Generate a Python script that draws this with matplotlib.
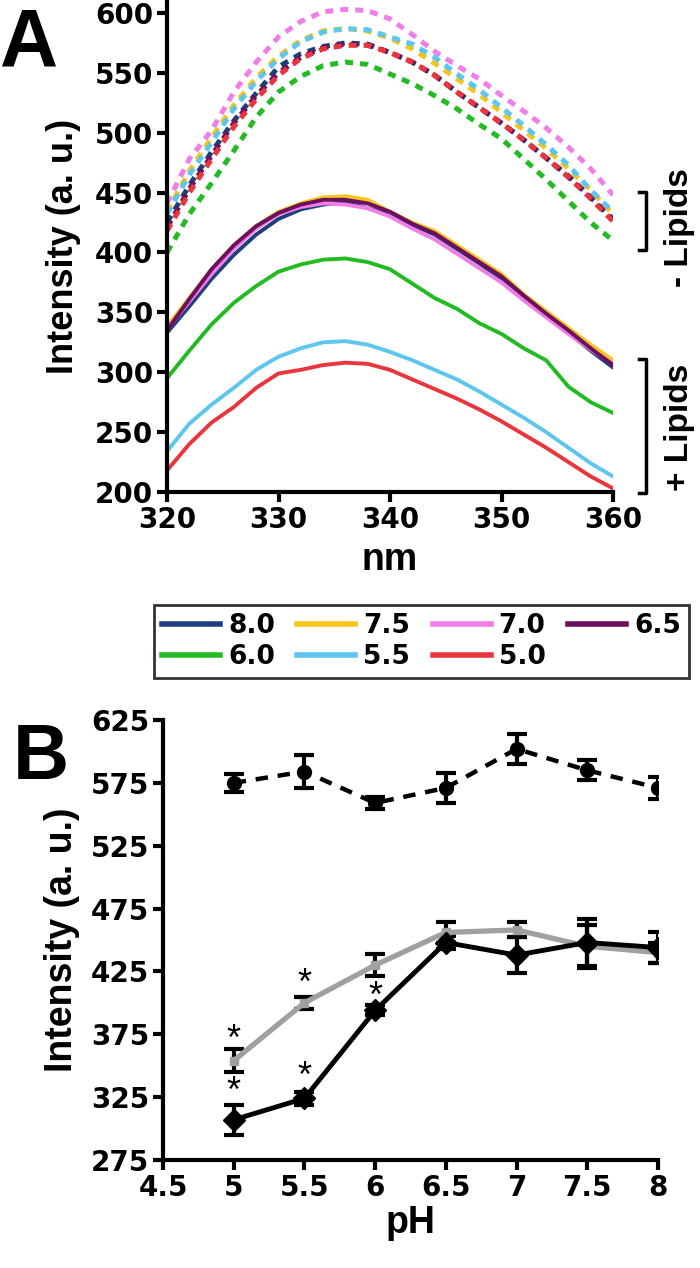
import numpy as np
import matplotlib
matplotlib.use("Agg")
import matplotlib.pyplot as plt

plt.rcParams['font.family'] = ['Liberation Sans', 'DejaVu Sans']
plt.rcParams['font.weight'] = 'bold'

# ---- Panel A: emission spectra (every 2 nm) ----
wavelength = list(range(320, 361, 2))
ph_labels = ["8.0", "7.5", "7.0", "6.5", "6.0", "5.5", "5.0"]
colors = ["#1d3f7c", "#f7c41c", "#f07de8", "#6b0f5e", "#22bb22", "#5cc6ef", "#e8363c"]

# + lipids (solid)
plus_lipids = {
    "8.0": [333, 355, 378, 398, 415, 428, 436, 440, 442, 437, 432, 423, 415, 403, 391, 378, 362, 347, 333, 318, 304],
    "7.5": [338, 362, 386, 406, 422, 434, 441, 446, 447, 444, 434, 425, 418, 406, 394, 382, 365, 351, 337, 323, 310],
    "7.0": [336, 359, 382, 403, 420, 432, 438, 441, 440, 437, 430, 420, 411, 399, 387, 375, 360, 346, 332, 319, 307],
    "6.5": [335, 361, 386, 406, 422, 433, 440, 444, 444, 441, 434, 424, 416, 404, 392, 380, 364, 349, 335, 320, 306],
    "6.0": [295, 318, 340, 358, 372, 384, 390, 394, 395, 392, 386, 374, 362, 353, 341, 332, 320, 310, 288, 275, 266],
    "5.5": [234, 257, 273, 287, 302, 313, 320, 325, 326, 323, 317, 310, 302, 294, 284, 273, 262, 250, 237, 224, 213],
    "5.0": [218, 240, 258, 271, 287, 299, 302, 306, 308, 307, 302, 294, 286, 278, 269, 259, 248, 237, 225, 213, 203],
}
# - lipids (dashed)
minus_lipids = {
    "8.0": [425, 456, 484, 510, 533, 555, 566, 572, 575, 574, 567, 559, 548, 534, 521, 508, 494, 479, 464, 446, 428],
    "7.5": [434, 468, 496, 523, 546, 564, 577, 585, 587, 585, 579, 570, 558, 545, 532, 517, 502, 487, 470, 452, 432],
    "7.0": [441, 478, 502, 534, 559, 580, 593, 601, 603, 602, 595, 582, 568, 556, 545, 531, 518, 504, 488, 470, 448],
    "6.5": [421, 453, 481, 508, 531, 550, 563, 571, 574, 573, 567, 559, 548, 534, 521, 508, 494, 479, 463, 446, 427],
    "6.0": [400, 432, 458, 485, 513, 534, 547, 556, 559, 557, 549, 541, 531, 520, 507, 495, 478, 461, 443, 425, 410],
    "5.5": [432, 465, 492, 520, 543, 562, 576, 584, 587, 586, 580, 574, 563, 549, 536, 521, 506, 490, 473, 452, 434],
    "5.0": [418, 450, 478, 505, 528, 548, 562, 570, 573, 573, 567, 559, 548, 534, 521, 508, 494, 479, 463, 445, 426],
}

# ---- Panel B: intensity at peak vs pH ----
ph = [5.0, 5.5, 6.0, 6.5, 7.0, 7.5, 8.0]
no_lipid = [575, 584, 559, 571, 602, 585, 571]
no_lipid_err = [7, 13, 5, 12, 12, 8, 9]
lipid_gray = [354, 400, 430, 456, 458, 445, 440]
lipid_gray_err = [9, 5, 9, 8, 6, 17, 8]
lipid_black = [307, 324, 394, 448, 438, 448, 444]
lipid_black_err = [12, 5, 4, 5, 14, 19, 12]
star_x = [5.0, 5.0, 5.5, 5.5, 6.0]
star_y = [370, 329, 415, 341, 404]

W, H = 700, 1268
fig = plt.figure(figsize=(W / 100, H / 100), dpi=100)
TICK_FONT = ['DejaVu Sans']


def style_axes(ax, tick_size):
    for s in ["top", "right"]:
        ax.spines[s].set_visible(False)
    for s in ["left", "bottom"]:
        ax.spines[s].set_linewidth(3)
    ax.tick_params(width=3, length=7, labelsize=tick_size, pad=3)
    for lab in ax.get_xticklabels() + ax.get_yticklabels():
        lab.set_fontweight('bold')
        lab.set_family(TICK_FONT)


# Panel A
axA = fig.add_axes([167 / W, 1 - 492 / H, (613 - 167) / W, 491 / H])
handles = {}
for lab, c in zip(ph_labels, colors):
    axA.plot(wavelength, minus_lipids[lab], color=c, lw=3.6, dashes=(1.6, 1.4))
for lab, c in zip(ph_labels, colors):
    h, = axA.plot(wavelength, plus_lipids[lab], color=c, lw=2.8)
    handles[lab] = h
axA.set_xlim(320, 360)
axA.set_ylim(200, 610)
axA.set_xticks([320, 330, 340, 350, 360])
axA.set_yticks([200, 250, 300, 350, 400, 450, 500, 550, 600])
style_axes(axA, 20)
axA.set_xlabel("nm", fontsize=27, fontweight='bold', labelpad=6)
axA.set_ylabel("Intensity (a. u.)", fontsize=26, fontweight='bold', labelpad=10)

# lipid brackets
axA.plot([362.3, 363.0, 363.0, 362.3], [450.5, 450.5, 402, 402], color='black', lw=2.5, clip_on=False)
axA.plot([362.3, 363.0, 363.0, 362.3], [311, 311, 199, 199], color='black', lw=2.5, clip_on=False)
axA.text(366.0, 421, "- Lipids", rotation=90, ha='center', va='center', fontsize=24, fontweight='bold')
axA.text(366.0, 254, "+ Lipids", rotation=90, ha='center', va='center', fontsize=24, fontweight='bold')

fig.text(0.0, 1 - 6 / H, "A", fontsize=58, fontweight='bold', va='top', ha='left')

# legend, row-major order
order = ["8.0", "6.0", "7.5", "5.5", "7.0", "5.0", "6.5"]
leg = fig.legend([handles[k] for k in order], order, ncol=4, loc='center',
                 bbox_to_anchor=((150 + 693) / 2 / W, 1 - (603 + 680) / 2 / H),
                 prop={'family': TICK_FONT, 'weight': 'bold', 'size': 19},
                 frameon=True, fancybox=False, edgecolor='black',
                 handlelength=2.2, handletextpad=0.3, columnspacing=0.85,
                 borderpad=0.3, labelspacing=0.2)
leg.get_frame().set_linewidth(2)
for line in leg.get_lines():
    line.set_linewidth(4)

# Panel B
axB = fig.add_axes([163 / W, 1 - 1160 / H, (658 - 163) / W, 440 / H])
axB.errorbar(ph, no_lipid, yerr=no_lipid_err, color='black', lw=3.2, dashes=(2.8, 2.2),
             marker='o', ms=10, capsize=7, elinewidth=3, capthick=3)
axB.errorbar(ph, lipid_gray, yerr=lipid_gray_err, color='#a0a0a0', lw=3.8,
             marker='s', ms=6, capsize=7, elinewidth=3, capthick=3, ecolor='black')
axB.errorbar(ph, lipid_black, yerr=lipid_black_err, color='black', lw=3.5,
             marker='D', ms=11, capsize=7, elinewidth=3, capthick=3)
for sx, sy in zip(star_x, star_y):
    axB.text(sx, sy, "*", ha='center', va='center', fontsize=26, fontweight='normal')
axB.set_xlim(4.5, 8)
axB.set_ylim(275, 625)
axB.set_xticks([4.5, 5, 5.5, 6, 6.5, 7, 7.5, 8])
axB.set_xticklabels(["4.5", "5", "5.5", "6", "6.5", "7", "7.5", "8"])
axB.set_yticks([275, 325, 375, 425, 475, 525, 575, 625])
style_axes(axB, 20)
axB.set_xlabel("pH", fontsize=27, fontweight='bold', labelpad=2)
axB.set_ylabel("Intensity (a. u.)", fontsize=27, fontweight='bold', labelpad=8)

fig.text(0.018, 1 - 722 / H, "B", fontsize=56, fontweight='bold', va='top', ha='left')

fig.savefig("out.png", dpi=100)
